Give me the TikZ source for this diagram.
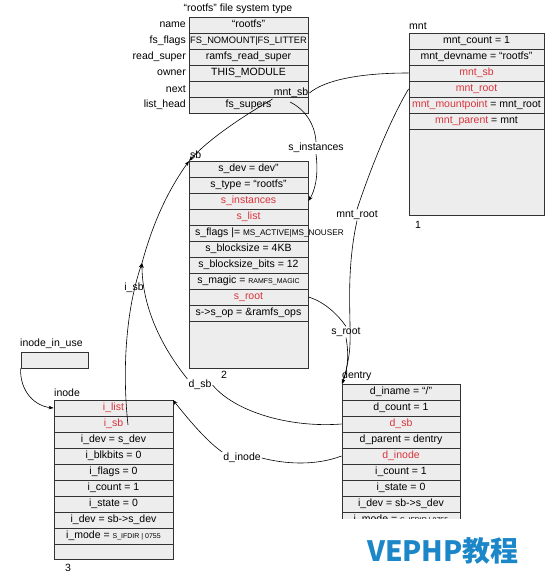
\documentclass[tikz,border=0pt]{standalone}
\usepackage{fontspec}
\setmainfont{Liberation Sans}
\newfontfamily\cjk{Noto Sans CJK SC}
\usetikzlibrary{arrows.meta}
\definecolor{cellc}{HTML}{EDEDED}
\definecolor{linec}{HTML}{333333}
\definecolor{redt}{HTML}{D8343C}
\definecolor{wmc}{HTML}{1B87C9}
\newcommand\tinyt{\fontsize{7}{8}\selectfont}
\begin{document}
\begin{tikzpicture}[x=1pt,y=-1pt,
  font=\fontsize{10.5}{12}\selectfont,
  cell/.style={draw=linec, line width=0.9pt, fill=cellc, minimum width=119pt, minimum height=16pt, inner sep=0pt, text height=8pt, text depth=2.5pt},
  wcell/.style={cell, minimum width=135pt},
  frame/.style={draw=linec, line width=0.9pt, fill=cellc},
  rtxt/.style={text=redt},
  lbl/.style={inner sep=1pt},
  arr/.style={-{Stealth[length=5pt,width=3.6pt]}, line width=0.6pt},
  con/.style={line width=0.6pt},
]
\useasboundingbox (0,0) rectangle (555,580);

% ---- file system type table
\node[lbl] (fstitle) at (238,9) {“rootfs” file system type};
\node[cell] (fsname) at (248.5,25) {“rootfs”};
\node[cell, font=\fontsize{9.3}{11}\selectfont] (fsflags) at (248.5,41) {FS\_NOMOUNT|FS\_LITTER};
\node[cell] (fsread) at (248.5,57) {ramfs\_read\_super};
\node[cell] (fsowner) at (248.5,73) {THIS\_MODULE};
\node[cell] (fsnext) at (248.5,89) {};
\node[cell] (fslist) at (248.5,105) {fs\_supers};
\node[lbl, anchor=east] (fl1) at (187,25) {name};
\node[lbl, anchor=east] (fl2) at (187,41) {fs\_flags};
\node[lbl, anchor=east] (fl3) at (187,57) {read\_super};
\node[lbl, anchor=east] (fl4) at (187,73) {owner};
\node[lbl, anchor=east] (fl5) at (187,89) {next};
\node[lbl, anchor=east] (fl6) at (187,105) {list\_head};

% ---- mnt
\node[lbl, anchor=south west] (mntlbl) at (408,31) {mnt};
\draw[frame] (409,33) rectangle (544,215);
\node[wcell] (mntcount) at (476.5,41) {mnt\_count = 1};
\node[wcell] (mntdev) at (476.5,57) {mnt\_devname = “rootfs”};
\node[wcell, rtxt] (mntsb) at (476.5,73) {mnt\_sb};
\node[wcell, rtxt] (mntroot) at (476.5,89) {mnt\_root};
\node[wcell] (mntmp) at (476.5,105) {{\color{redt}mnt\_mountpoint} = mnt\_root};
\node[wcell] (mntpar) at (476.5,121) {{\color{redt}mnt\_parent} = mnt};
\node[lbl] (mntnum) at (418,225) {1};

% ---- super block
\node[lbl, anchor=south west] (sblbl) at (189,160) {sb};
\draw[frame] (189,161) rectangle (308,368);
\coordinate (sbcorner) at (189,161);
\node[cell] (sdev) at (248.5,169) {s\_dev = dev”};
\node[cell] (stype) at (248.5,185) {s\_type = “rootfs”};
\node[cell, rtxt] (sinst) at (248.5,201) {s\_instances};
\node[cell, rtxt] (slist) at (248.5,217) {s\_list};
\node[cell] (sflags) at (248.5,233) {};
\node[lbl, anchor=west, inner sep=0pt] (sflagst) at (195,233) {s\_flags |= {\fontsize{8.2}{9}\selectfont MS\_ACTIVE|MS\_NOUSER}};
\node[cell] (sbs) at (248.5,249) {s\_blocksize = 4KB};
\node[cell] (sbsb) at (248.5,265) {s\_blocksize\_bits = 12};
\node[cell] (smagic) at (248.5,281) {s\_magic = {\tinyt RAMFS\_MAGIC}};
\node[cell, rtxt] (sroot) at (248.5,297) {s\_root};
\node[cell] (sop) at (248.5,313) {s->s\_op = \&ramfs\_ops};
\node[lbl] (sbnum) at (224,375) {2};

% ---- inode_in_use
\node[lbl, anchor=south west] (iiulbl) at (19,350) {inode\_in\_use};
\node[draw=linec, line width=0.9pt, fill=cellc, minimum width=67pt, minimum height=16pt, inner sep=0pt] (iiu) at (54.5,360) {};

% ---- inode
\node[lbl, anchor=south west] (inodelbl) at (53,398) {inode};
\draw[frame] (54,400) rectangle (173,559);
\coordinate (inodecorner) at (173,400);
\node[cell, rtxt] (ilist) at (113.5,408) {i\_list};
\node[cell, rtxt] (isb) at (113.5,424) {i\_sb};
\node[cell] (idev) at (113.5,440) {i\_dev = s\_dev};
\node[cell] (iblk) at (113.5,456) {i\_blkbits = 0};
\node[cell] (iflags) at (113.5,472) {i\_flags = 0};
\node[cell] (icount) at (113.5,488) {i\_count = 1};
\node[cell] (istate) at (113.5,504) {i\_state = 0};
\node[cell] (idev2) at (113.5,520) {i\_dev = sb->s\_dev};
\node[cell] (imode) at (113.5,536) {i\_mode = {\tinyt S\_IFDIR | 0755}};
\node[lbl] (inodenum) at (68,568) {3};

% ---- dentry
\node[lbl, anchor=south west] (dentrylbl) at (341,382) {dentry};
\draw[frame] (342,384) rectangle (460,545);
\coordinate (dcorner) at (342,384);
\node[cell, minimum width=118pt] (dname) at (401,392) {d\_iname = “/”};
\node[cell, minimum width=118pt] (dcount) at (401,408) {d\_count = 1};
\node[cell, minimum width=118pt, rtxt] (dsb) at (401,424) {d\_sb};
\node[cell, minimum width=118pt] (dpar) at (401,440) {d\_parent = dentry};
\node[cell, minimum width=118pt, rtxt] (dinode) at (401,456) {d\_inode};
\node[cell, minimum width=118pt] (dicount) at (401,472) {i\_count = 1};
\node[cell, minimum width=118pt] (distate) at (401,488) {i\_state = 0};
\node[cell, minimum width=118pt] (didev) at (401,504) {i\_dev = sb->s\_dev};
\node[cell, minimum width=118pt] (dimode) at (401,520) {i\_mode = {\tinyt S\_IFDIR | 0755}};
\fill[white] (335,518.5) rectangle (470,575);

% ---- watermark
\node[lbl, text=wmc, font=\cjk\bfseries\fontsize{28}{32}\selectfont] (wm) at (443,551) {VEPHP教程};

% ---- connectors
% mnt_sb
\node[lbl] (lmntsb) at (291,93) {mnt\_sb};
\draw[con] (mntsb.west) .. controls (360,73) and (325,80) .. (lmntsb.east);
\draw[arr] (lmntsb.south west) .. controls (240,118) and (208,140) .. (sbcorner);
% s_instances
\coordinate (instfrom) at (290,102);
\node[lbl] (linst) at (316,148) {s\_instances};
\draw[con] (instfrom) .. controls (306,110) and (315,125) .. (linst.north);
\draw[arr] (linst.south) .. controls (319,178) and (314,192) .. (sinst.east);
% mnt_root
\node[lbl] (lmntroot) at (357,215) {mnt\_root};
\draw[con] (mntroot.west) .. controls (390,120) and (370,170) .. (lmntroot.north);
\draw[arr] (lmntroot.south) .. controls (344,280) and (353,330) .. (349,355) .. controls (347,368) and (345,376) .. (dcorner);
% s_root
\node[lbl] (lsroot) at (346,332) {s\_root};
\draw[con] (sroot.east) .. controls (325,302) and (338,315) .. (lsroot.north);
\draw[arr] (lsroot.south) .. controls (350,360) and (346,372) .. (dcorner);
% i_sb and d_sb
\coordinate (junc) at (142,263);
\coordinate (isbfrom) at (128,425);
\node[lbl] (lisb) at (134,288) {i\_sb};
\draw[arr] (isbfrom) .. controls (122,370) and (126,310) .. (junc);
\node[lbl] (ldsb) at (200,385) {d\_sb};
\draw[con] (dsb.west) .. controls (290,428) and (235,412) .. (ldsb.east);
\draw[arr] (ldsb.north west) .. controls (160,345) and (142,305) .. (junc);
\draw[arr] (junc) .. controls (155,215) and (172,185) .. (sbcorner);
% d_inode
\node[lbl] (ldinode) at (242,458) {d\_inode};
\draw[con] (dinode.west) .. controls (315,466) and (285,464) .. (ldinode.east);
\draw[arr] (ldinode.north west) .. controls (205,440) and (185,415) .. (inodecorner);
% inode_in_use
\draw[arr] (iiu.south west) .. controls (20,392) and (35,406) .. (ilist.west);
\end{tikzpicture}
\end{document}
